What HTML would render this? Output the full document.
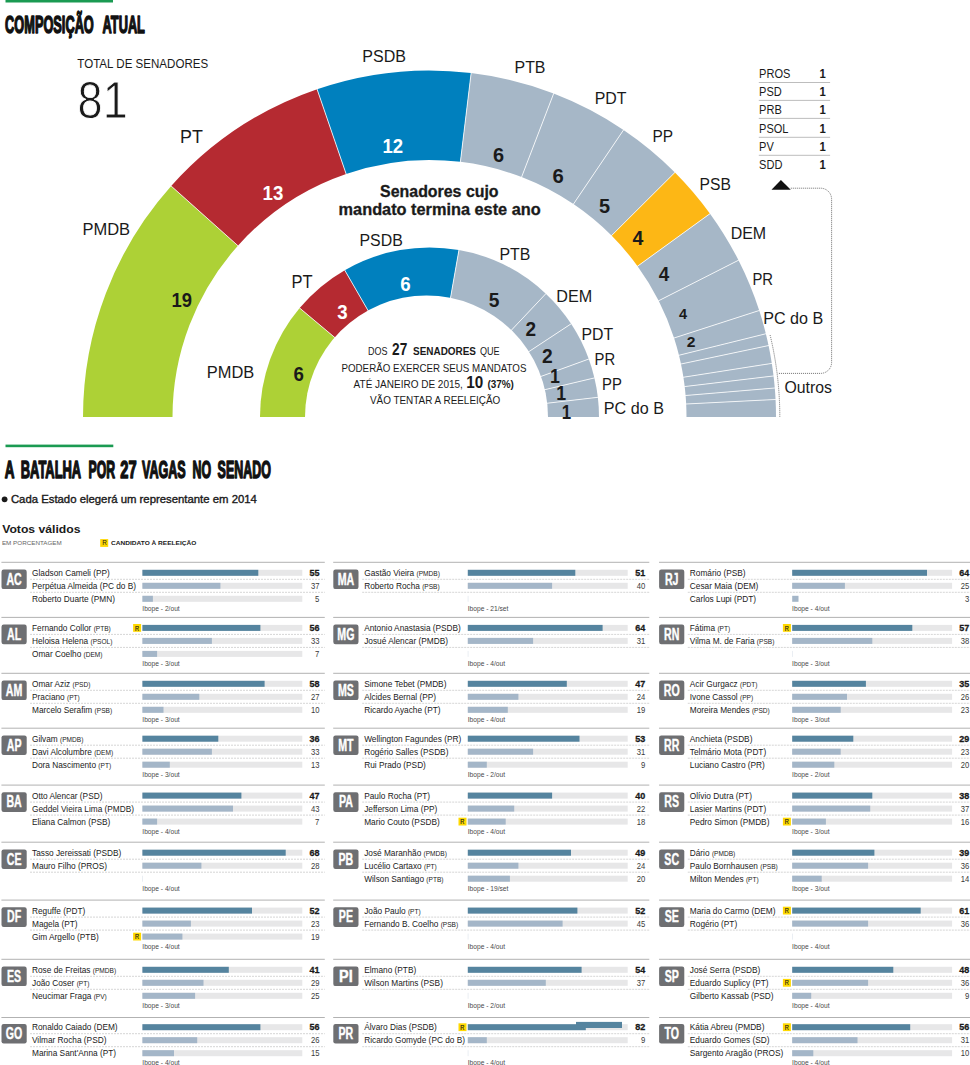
<!DOCTYPE html>
<html lang="pt-BR"><head><meta charset="utf-8"><title>Composição atual do Senado</title>
<style>
html,body{margin:0;padding:0;background:#fff}
svg{display:block;font-family:"Liberation Sans",Arial,sans-serif;fill:#1a1a1a}
</style></head><body>
<svg width="970" height="1065" viewBox="0 0 970 1065">
<rect width="970" height="1065" fill="#fff"/>
<rect x="5.5" y="0" width="107.5" height="2.5" fill="#1a9a52"/>
<rect x="5.5" y="444.6" width="107.8" height="2.6" fill="#1a9a52"/>
<text x="5.1" y="32.8" font-size="23.7" font-weight="700" fill="#111" textLength="88.7" lengthAdjust="spacingAndGlyphs" stroke="#111" stroke-width="1.5" stroke-linejoin="round">COMPOSIÇÃO</text>
<text x="102.6" y="32.8" font-size="23.7" font-weight="700" fill="#111" textLength="42.3" lengthAdjust="spacingAndGlyphs" stroke="#111" stroke-width="1.5" stroke-linejoin="round">ATUAL</text>
<text x="4.8" y="478.0" font-size="23.7" font-weight="700" fill="#111" textLength="9.7" lengthAdjust="spacingAndGlyphs" stroke="#111" stroke-width="1.5" stroke-linejoin="round">A</text>
<text x="20.7" y="478.0" font-size="23.7" font-weight="700" fill="#111" textLength="60.5" lengthAdjust="spacingAndGlyphs" stroke="#111" stroke-width="1.5" stroke-linejoin="round">BATALHA</text>
<text x="88.5" y="478.0" font-size="23.7" font-weight="700" fill="#111" textLength="26.5" lengthAdjust="spacingAndGlyphs" stroke="#111" stroke-width="1.5" stroke-linejoin="round">POR</text>
<text x="120.3" y="478.0" font-size="23.7" font-weight="700" fill="#111" textLength="16.3" lengthAdjust="spacingAndGlyphs" stroke="#111" stroke-width="1.5" stroke-linejoin="round">27</text>
<text x="142.0" y="478.0" font-size="23.7" font-weight="700" fill="#111" textLength="43.7" lengthAdjust="spacingAndGlyphs" stroke="#111" stroke-width="1.5" stroke-linejoin="round">VAGAS</text>
<text x="192.5" y="478.0" font-size="23.7" font-weight="700" fill="#111" textLength="18.6" lengthAdjust="spacingAndGlyphs" stroke="#111" stroke-width="1.5" stroke-linejoin="round">NO</text>
<text x="217.6" y="478.0" font-size="23.7" font-weight="700" fill="#111" textLength="53.3" lengthAdjust="spacingAndGlyphs" stroke="#111" stroke-width="1.5" stroke-linejoin="round">SENADO</text>
<text x="77.3" y="68.0" font-size="13.4" textLength="130.9" lengthAdjust="spacingAndGlyphs">TOTAL DE SENADORES</text>
<text x="77.6" y="118.2" font-size="51.3" textLength="50.2" lengthAdjust="spacingAndGlyphs" stroke="#fff" stroke-width="0.9">81</text>
<path d="M83.00 417.00A346.5 346.5 0 0 1 171.19 186.05L237.91 245.70A257.0 257.0 0 0 0 172.50 417.00Z" fill="#add136"/>
<path d="M171.19 186.05A346.5 346.5 0 0 1 317.09 89.24L346.13 173.90A257.0 257.0 0 0 0 237.91 245.70Z" fill="#b52a31"/>
<path d="M317.09 89.24A346.5 346.5 0 0 1 471.13 73.01L460.38 161.86A257.0 257.0 0 0 0 346.13 173.90Z" fill="#0080be"/>
<path d="M471.13 73.01A346.5 346.5 0 0 1 553.67 93.51L521.60 177.07A257.0 257.0 0 0 0 460.38 161.86Z" fill="#a6b7c7"/>
<path d="M553.67 93.51A346.5 346.5 0 0 1 623.56 129.94L573.44 204.09A257.0 257.0 0 0 0 521.60 177.07Z" fill="#a6b7c7"/>
<path d="M623.56 129.94A346.5 346.5 0 0 1 674.94 172.42L611.54 235.59A257.0 257.0 0 0 0 573.44 204.09Z" fill="#a6b7c7"/>
<path d="M674.94 172.42A346.5 346.5 0 0 1 710.04 213.63L637.58 266.16A257.0 257.0 0 0 0 611.54 235.59Z" fill="#fdb715"/>
<path d="M710.04 213.63A346.5 346.5 0 0 1 738.51 260.23L658.69 300.72A257.0 257.0 0 0 0 637.58 266.16Z" fill="#a6b7c7"/>
<path d="M738.51 260.23A346.5 346.5 0 0 1 759.23 310.50L674.06 338.01A257.0 257.0 0 0 0 658.69 300.72Z" fill="#a6b7c7"/>
<path d="M759.23 310.50A346.5 346.5 0 0 1 765.85 333.76L678.97 355.26A257.0 257.0 0 0 0 674.06 338.01Z" fill="#a6b7c7"/>
<path d="M765.85 333.76A346.5 346.5 0 0 1 768.55 345.55L680.98 364.01A257.0 257.0 0 0 0 678.97 355.26Z" fill="#a6b7c7"/>
<path d="M768.55 345.55A346.5 346.5 0 0 1 771.83 363.39L683.41 377.24A257.0 257.0 0 0 0 680.98 364.01Z" fill="#a6b7c7"/>
<path d="M771.83 363.39A346.5 346.5 0 0 1 773.56 375.97L684.69 386.57A257.0 257.0 0 0 0 683.41 377.24Z" fill="#a6b7c7"/>
<path d="M773.56 375.97A346.5 346.5 0 0 1 774.78 388.01L685.60 395.49A257.0 257.0 0 0 0 684.69 386.57Z" fill="#a6b7c7"/>
<path d="M774.78 388.01A346.5 346.5 0 0 1 775.56 399.47L686.17 404.00A257.0 257.0 0 0 0 685.60 395.49Z" fill="#a6b7c7"/>
<path d="M775.56 399.47A346.5 346.5 0 0 1 776.00 417.00L686.50 417.00A257.0 257.0 0 0 0 686.17 404.00Z" fill="#a6b7c7"/>
<line x1="170.82" y1="185.71" x2="238.29" y2="246.03" stroke="#fff" stroke-width="0.8"/>
<line x1="316.93" y1="88.77" x2="346.29" y2="174.37" stroke="#fff" stroke-width="0.8"/>
<line x1="471.19" y1="72.51" x2="460.32" y2="162.36" stroke="#fff" stroke-width="0.8"/>
<line x1="553.85" y1="93.05" x2="521.42" y2="177.54" stroke="#fff" stroke-width="0.8"/>
<line x1="623.84" y1="129.53" x2="573.16" y2="204.50" stroke="#fff" stroke-width="0.8"/>
<line x1="675.29" y1="172.06" x2="611.19" y2="235.94" stroke="#fff" stroke-width="0.8"/>
<line x1="710.44" y1="213.33" x2="637.17" y2="266.45" stroke="#fff" stroke-width="0.8"/>
<line x1="738.95" y1="260.01" x2="658.25" y2="300.95" stroke="#fff" stroke-width="0.8"/>
<line x1="759.70" y1="310.35" x2="673.58" y2="338.16" stroke="#fff" stroke-width="0.8"/>
<line x1="766.34" y1="333.64" x2="678.49" y2="355.38" stroke="#fff" stroke-width="0.8"/>
<line x1="769.04" y1="345.45" x2="680.49" y2="364.11" stroke="#fff" stroke-width="0.8"/>
<line x1="772.32" y1="363.32" x2="682.91" y2="377.32" stroke="#fff" stroke-width="0.8"/>
<line x1="774.06" y1="375.91" x2="684.20" y2="386.63" stroke="#fff" stroke-width="0.8"/>
<line x1="775.28" y1="387.96" x2="685.10" y2="395.54" stroke="#fff" stroke-width="0.8"/>
<line x1="776.06" y1="399.44" x2="685.67" y2="404.02" stroke="#fff" stroke-width="0.8"/>
<clipPath id="c2"><rect x="250" y="240" width="360" height="177"/></clipPath><g clip-path="url(#c2)">
<path d="M429.5 417.0L260.00 417.00A169.5 169.5 0 0 1 299.66 308.05Z" fill="#add136"/>
<path d="M429.5 417.0L299.66 308.05A169.5 169.5 0 0 1 344.75 270.21Z" fill="#b52a31"/>
<path d="M429.5 417.0L344.75 270.21A169.5 169.5 0 0 1 458.93 250.08Z" fill="#0080be"/>
<path d="M429.5 417.0L458.93 250.08A169.5 169.5 0 0 1 545.82 293.71Z" fill="#a6b7c7"/>
<path d="M429.5 417.0L545.82 293.71A169.5 169.5 0 0 1 571.12 323.86Z" fill="#a6b7c7"/>
<path d="M429.5 417.0L571.12 323.86A169.5 169.5 0 0 1 588.78 359.03Z" fill="#a6b7c7"/>
<path d="M429.5 417.0L588.78 359.03A169.5 169.5 0 0 1 594.43 377.91Z" fill="#a6b7c7"/>
<path d="M429.5 417.0L594.43 377.91A169.5 169.5 0 0 1 597.85 397.32Z" fill="#a6b7c7"/>
<path d="M429.5 417.0L597.85 397.32A169.5 169.5 0 0 1 599.00 417.00Z" fill="#a6b7c7"/>
<line x1="429.5" y1="417.0" x2="299.27" y2="307.73" stroke="#fff" stroke-width="0.8"/>
<line x1="429.5" y1="417.0" x2="344.50" y2="269.78" stroke="#fff" stroke-width="0.8"/>
<line x1="429.5" y1="417.0" x2="459.02" y2="249.58" stroke="#fff" stroke-width="0.8"/>
<line x1="429.5" y1="417.0" x2="546.16" y2="293.35" stroke="#fff" stroke-width="0.8"/>
<line x1="429.5" y1="417.0" x2="571.53" y2="323.58" stroke="#fff" stroke-width="0.8"/>
<line x1="429.5" y1="417.0" x2="589.25" y2="358.86" stroke="#fff" stroke-width="0.8"/>
<line x1="429.5" y1="417.0" x2="594.92" y2="377.80" stroke="#fff" stroke-width="0.8"/>
<line x1="429.5" y1="417.0" x2="598.35" y2="397.26" stroke="#fff" stroke-width="0.8"/>
<circle cx="426.5" cy="417" r="121.5" fill="#fff"/></g>
<text x="82.4" y="234.5" font-size="17.4" textLength="47.7" lengthAdjust="spacingAndGlyphs">PMDB</text>
<text x="180.1" y="142.5" font-size="18.5" textLength="22.8" lengthAdjust="spacingAndGlyphs">PT</text>
<text x="362.3" y="62.4" font-size="17.4" textLength="43.6" lengthAdjust="spacingAndGlyphs">PSDB</text>
<text x="514.5" y="72.6" font-size="17.4" textLength="31.0" lengthAdjust="spacingAndGlyphs">PTB</text>
<text x="594.7" y="103.9" font-size="17.4" textLength="31.8" lengthAdjust="spacingAndGlyphs">PDT</text>
<text x="652.5" y="141.8" font-size="17.4" textLength="20.6" lengthAdjust="spacingAndGlyphs">PP</text>
<text x="699.6" y="190.4" font-size="17.4" textLength="31.3" lengthAdjust="spacingAndGlyphs">PSB</text>
<text x="730.7" y="238.9" font-size="17.4" textLength="35.5" lengthAdjust="spacingAndGlyphs">DEM</text>
<text x="752.4" y="284.9" font-size="17.4" textLength="20.6" lengthAdjust="spacingAndGlyphs">PR</text>
<text x="763.2" y="324.4" font-size="17.4" textLength="60.0" lengthAdjust="spacingAndGlyphs">PC do B</text>
<text x="784.5" y="392.5" font-size="16.7" textLength="47.5" lengthAdjust="spacingAndGlyphs">Outros</text>
<text x="206.8" y="377.6" font-size="17.2" textLength="47.5" lengthAdjust="spacingAndGlyphs">PMDB</text>
<text x="291.4" y="287.5" font-size="18.2" textLength="21.1" lengthAdjust="spacingAndGlyphs">PT</text>
<text x="359.5" y="246.4" font-size="17.4" textLength="43.3" lengthAdjust="spacingAndGlyphs">PSDB</text>
<text x="499.4" y="259.7" font-size="17.4" textLength="30.9" lengthAdjust="spacingAndGlyphs">PTB</text>
<text x="556.3" y="301.8" font-size="17.4" textLength="35.9" lengthAdjust="spacingAndGlyphs">DEM</text>
<text x="581.5" y="339.6" font-size="17.4" textLength="31.7" lengthAdjust="spacingAndGlyphs">PDT</text>
<text x="594.6" y="365.3" font-size="17.4" textLength="20.6" lengthAdjust="spacingAndGlyphs">PR</text>
<text x="602.1" y="389.6" font-size="17.4" textLength="19.8" lengthAdjust="spacingAndGlyphs">PP</text>
<text x="603.8" y="413.6" font-size="17.4" textLength="60.1" lengthAdjust="spacingAndGlyphs">PC do B</text>
<text x="171.5" y="306.8" font-size="19.8" font-weight="700" textLength="20.5" lengthAdjust="spacingAndGlyphs">19</text>
<text x="262.5" y="200.3" font-size="19.8" font-weight="700" textLength="20.8" lengthAdjust="spacingAndGlyphs" fill="#fff">13</text>
<text x="382.5" y="152.9" font-size="19.8" font-weight="700" textLength="20.6" lengthAdjust="spacingAndGlyphs" fill="#fff">12</text>
<text x="493.0" y="162.0" font-size="19.8" font-weight="700" textLength="11.1" lengthAdjust="spacingAndGlyphs">6</text>
<text x="552.4" y="182.6" font-size="19.8" font-weight="700" textLength="11.3" lengthAdjust="spacingAndGlyphs">6</text>
<text x="599.0" y="212.7" font-size="19.8" font-weight="700" textLength="11.1" lengthAdjust="spacingAndGlyphs">5</text>
<text x="632.5" y="244.8" font-size="19.8" font-weight="700" textLength="10.9" lengthAdjust="spacingAndGlyphs">4</text>
<text x="658.7" y="280.8" font-size="19.8" font-weight="700" textLength="10.5" lengthAdjust="spacingAndGlyphs">4</text>
<text x="679.0" y="318.8" font-size="14.8" font-weight="700" textLength="8.1" lengthAdjust="spacingAndGlyphs">4</text>
<text x="686.8" y="347.3" font-size="14.8" font-weight="700" textLength="8.7" lengthAdjust="spacingAndGlyphs">2</text>
<text x="293.4" y="380.8" font-size="19.8" font-weight="700" textLength="10.4" lengthAdjust="spacingAndGlyphs">6</text>
<text x="337.2" y="318.5" font-size="19.8" font-weight="700" textLength="10.4" lengthAdjust="spacingAndGlyphs" fill="#fff">3</text>
<text x="400.3" y="290.5" font-size="19.8" font-weight="700" textLength="10.4" lengthAdjust="spacingAndGlyphs" fill="#fff">6</text>
<text x="488.7" y="306.7" font-size="19.8" font-weight="700" textLength="10.7" lengthAdjust="spacingAndGlyphs">5</text>
<text x="525.4" y="335.9" font-size="19.8" font-weight="700" textLength="10.6" lengthAdjust="spacingAndGlyphs">2</text>
<text x="541.9" y="362.9" font-size="19.8" font-weight="700" textLength="10.7" lengthAdjust="spacingAndGlyphs">2</text>
<text x="550.1" y="382.7" font-size="19.8" font-weight="700" textLength="9.9" lengthAdjust="spacingAndGlyphs">1</text>
<text x="556.3" y="399.5" font-size="19.8" font-weight="700" textLength="9.9" lengthAdjust="spacingAndGlyphs">1</text>
<text x="561.7" y="419.3" font-size="19.8" font-weight="700" textLength="9.4" lengthAdjust="spacingAndGlyphs">1</text>
<text x="380.1" y="196.5" font-size="15.7" font-weight="700" textLength="118.5" lengthAdjust="spacingAndGlyphs" stroke="#1a1a1a" stroke-width="0.3">Senadores cujo</text>
<text x="338.6" y="215.3" font-size="15.7" font-weight="700" textLength="202.1" lengthAdjust="spacingAndGlyphs" stroke="#1a1a1a" stroke-width="0.3">mandato termina este ano</text>
<text x="368.1" y="354.7" font-size="10.6" textLength="19.5" lengthAdjust="spacingAndGlyphs">DOS</text>
<text x="392.1" y="354.7" font-size="16.3" font-weight="700" textLength="15.2" lengthAdjust="spacingAndGlyphs">27</text>
<text x="413.0" y="354.7" font-size="10.6" font-weight="700" textLength="63.0" lengthAdjust="spacingAndGlyphs">SENADORES</text>
<text x="479.9" y="354.7" font-size="10.6" textLength="19.7" lengthAdjust="spacingAndGlyphs">QUE</text>
<text x="341.5" y="371.7" font-size="10.6" textLength="184.9" lengthAdjust="spacingAndGlyphs">PODERÃO EXERCER SEUS MANDATOS</text>
<text x="353.6" y="387.6" font-size="10.6" textLength="109.3" lengthAdjust="spacingAndGlyphs">ATÉ JANEIRO DE 2015,</text>
<text x="466.3" y="387.6" font-size="16.3" font-weight="700" textLength="17.0" lengthAdjust="spacingAndGlyphs">10</text>
<text x="487.4" y="387.6" font-size="10.6" font-weight="700" textLength="26.5" lengthAdjust="spacingAndGlyphs">(37%)</text>
<text x="369.9" y="403.5" font-size="10.6" textLength="130.4" lengthAdjust="spacingAndGlyphs">VÃO TENTAR A REELEIÇÃO</text>
<text x="759.1" y="78.3" font-size="13.1" textLength="31.3" lengthAdjust="spacingAndGlyphs">PROS</text>
<text x="819.6" y="78.3" font-size="13.2" font-weight="700" textLength="6.3" lengthAdjust="spacingAndGlyphs">1</text>
<text x="759.1" y="96.3" font-size="13.1" textLength="22.7" lengthAdjust="spacingAndGlyphs">PSD</text>
<text x="819.6" y="96.3" font-size="13.2" font-weight="700" textLength="6.3" lengthAdjust="spacingAndGlyphs">1</text>
<text x="759.1" y="114.3" font-size="13.1" textLength="22.7" lengthAdjust="spacingAndGlyphs">PRB</text>
<text x="819.6" y="114.3" font-size="13.2" font-weight="700" textLength="6.3" lengthAdjust="spacingAndGlyphs">1</text>
<text x="759.1" y="132.7" font-size="13.1" textLength="29.4" lengthAdjust="spacingAndGlyphs">PSOL</text>
<text x="819.6" y="132.7" font-size="13.2" font-weight="700" textLength="6.3" lengthAdjust="spacingAndGlyphs">1</text>
<text x="759.1" y="150.7" font-size="13.1" textLength="14.7" lengthAdjust="spacingAndGlyphs">PV</text>
<text x="819.6" y="150.7" font-size="13.2" font-weight="700" textLength="6.3" lengthAdjust="spacingAndGlyphs">1</text>
<text x="759.1" y="168.8" font-size="13.1" textLength="23.3" lengthAdjust="spacingAndGlyphs">SDD</text>
<text x="819.6" y="168.8" font-size="13.2" font-weight="700" textLength="6.3" lengthAdjust="spacingAndGlyphs">1</text>
<line x1="758.8" y1="82.5" x2="830.1" y2="82.5" stroke="#b5b5b5" stroke-width="0.9"/>
<line x1="758.8" y1="100.4" x2="830.1" y2="100.4" stroke="#b5b5b5" stroke-width="0.9"/>
<line x1="758.8" y1="118.4" x2="830.1" y2="118.4" stroke="#b5b5b5" stroke-width="0.9"/>
<line x1="758.8" y1="137.3" x2="830.1" y2="137.3" stroke="#b5b5b5" stroke-width="0.9"/>
<line x1="758.8" y1="155.3" x2="830.1" y2="155.3" stroke="#b5b5b5" stroke-width="0.9"/>
<path d="M780.9 180L790.8 189.7L771.5 189.7Z" fill="#111"/>
<path d="M790.8 188.2H820.5A11 11 0 0 1 831.6 199.3V362.4A11 11 0 0 1 820.5 373.4H777.8" fill="none" stroke="#333" stroke-width="0.7" stroke-dasharray="1 1"/>
<path d="M770.1 335.0A350.3 350.3 0 0 1 779.8 417.0" fill="none" stroke="#333" stroke-width="0.7" stroke-dasharray="1 1"/>
<circle cx="4.6" cy="499.3" r="2.9" fill="#1a1a1a"/>
<text x="10.9" y="503.0" font-size="10.5" textLength="246.0" lengthAdjust="spacingAndGlyphs" stroke="#1a1a1a" stroke-width="0.35">Cada Estado elegerá um representante em 2014</text>
<text x="2.2" y="532.5" font-size="11.5" font-weight="700" textLength="78.3" lengthAdjust="spacingAndGlyphs">Votos válidos</text>
<text x="1.9" y="545.3" font-size="6.1" textLength="59.9" lengthAdjust="spacingAndGlyphs" fill="#666">EM PORCENTAGEM</text>
<rect x="100.2" y="539.1" width="8.0" height="7.8" fill="#ffd800"/>
<text x="102.3" y="545.3" font-size="6.6" textLength="4.6" lengthAdjust="spacingAndGlyphs">R</text>
<text x="111.1" y="545.3" font-size="6.2" font-weight="700" textLength="85.2" lengthAdjust="spacingAndGlyphs">CANDIDATO À REELEIÇÃO</text>
<line x1="1.4" y1="562.3" x2="324.8" y2="562.3" stroke="#a9a9a9" stroke-width="0.9"/>
<rect x="1.5" y="569.5" width="25.2" height="19.6" rx="2.2" fill="#6e6f72"/>
<text x="14.1" y="584.6" font-size="15.8" font-weight="700" fill="#fff" text-anchor="middle" textLength="15.3" lengthAdjust="spacingAndGlyphs" stroke="#fff" stroke-width="0.4">AC</text>
<text x="32.0" y="575.6" font-size="8.7" textLength="77.8" lengthAdjust="spacingAndGlyphs">Gladson Cameli (PP)</text>
<rect x="142.4" y="569.8" width="159.9" height="6" fill="#e7e7e8"/>
<rect x="142.4" y="569.8" width="115.9" height="6" fill="#55849f"/>
<text x="319.4" y="575.6" font-size="9" text-anchor="end" font-weight="700" stroke="#1a1a1a" stroke-width="0.3">55</text>
<line x1="30.0" y1="579.3" x2="324.8" y2="579.3" stroke="#aaa" stroke-width="0.5" stroke-dasharray="2 1"/>
<text x="32.0" y="588.6" font-size="8.7" textLength="104.0" lengthAdjust="spacingAndGlyphs">Perpétua Almeida (PC do B)</text>
<rect x="142.4" y="582.8" width="159.9" height="6" fill="#e7e7e8"/>
<rect x="142.4" y="582.8" width="78.0" height="6" fill="#a4b6c8"/>
<text x="319.4" y="588.6" font-size="9" text-anchor="end" textLength="8.5" lengthAdjust="spacingAndGlyphs" fill="#3a3a3a">37</text>
<line x1="30.0" y1="592.3" x2="324.8" y2="592.3" stroke="#aaa" stroke-width="0.5" stroke-dasharray="2 1"/>
<text x="32.0" y="601.6" font-size="8.7" textLength="82.9" lengthAdjust="spacingAndGlyphs">Roberto Duarte (PMN)</text>
<rect x="142.4" y="595.8" width="159.9" height="6" fill="#e7e7e8"/>
<rect x="142.4" y="595.8" width="10.5" height="6" fill="#a4b6c8"/>
<text x="319.4" y="601.6" font-size="9" text-anchor="end" textLength="4.3" lengthAdjust="spacingAndGlyphs" fill="#3a3a3a">5</text>
<text x="142.3" y="610.7" font-size="7.4" textLength="37.4" lengthAdjust="spacingAndGlyphs" fill="#4a4a4a">Ibope - 2/out</text>
<line x1="1.4" y1="617.4" x2="324.8" y2="617.4" stroke="#a9a9a9" stroke-width="0.9"/>
<rect x="1.5" y="624.6" width="25.2" height="19.6" rx="2.2" fill="#6e6f72"/>
<text x="14.1" y="639.7" font-size="15.8" font-weight="700" fill="#fff" text-anchor="middle" textLength="14.1" lengthAdjust="spacingAndGlyphs" stroke="#fff" stroke-width="0.4">AL</text>
<text x="32.0" y="630.8" font-size="8.7" textLength="78.8" lengthAdjust="spacingAndGlyphs">Fernando Collor <tspan font-size="6.9">(PTB)</tspan></text>
<rect x="142.4" y="624.9" width="159.9" height="6" fill="#e7e7e8"/>
<rect x="142.4" y="624.9" width="118.0" height="6" fill="#55849f"/>
<rect x="133.1" y="624.0" width="8" height="7.8" fill="#ffd900"/>
<text x="134.9" y="630.5" font-size="7.4" textLength="4.1" lengthAdjust="spacingAndGlyphs" stroke="#1a1a1a" stroke-width="0.2">R</text>
<text x="319.4" y="630.8" font-size="9" text-anchor="end" font-weight="700" stroke="#1a1a1a" stroke-width="0.3">56</text>
<line x1="30.0" y1="634.4" x2="324.8" y2="634.4" stroke="#aaa" stroke-width="0.5" stroke-dasharray="2 1"/>
<text x="32.0" y="643.8" font-size="8.7" textLength="80.4" lengthAdjust="spacingAndGlyphs">Heloisa Helena <tspan font-size="6.9">(PSOL)</tspan></text>
<rect x="142.4" y="637.9" width="159.9" height="6" fill="#e7e7e8"/>
<rect x="142.4" y="637.9" width="69.5" height="6" fill="#a4b6c8"/>
<text x="319.4" y="643.8" font-size="9" text-anchor="end" textLength="8.5" lengthAdjust="spacingAndGlyphs" fill="#3a3a3a">33</text>
<line x1="30.0" y1="647.4" x2="324.8" y2="647.4" stroke="#aaa" stroke-width="0.5" stroke-dasharray="2 1"/>
<text x="32.0" y="656.8" font-size="8.7" textLength="70.5" lengthAdjust="spacingAndGlyphs">Omar Coelho <tspan font-size="6.9">(DEM)</tspan></text>
<rect x="142.4" y="650.9" width="159.9" height="6" fill="#e7e7e8"/>
<rect x="142.4" y="650.9" width="14.7" height="6" fill="#a4b6c8"/>
<text x="319.4" y="656.8" font-size="9" text-anchor="end" textLength="4.3" lengthAdjust="spacingAndGlyphs" fill="#3a3a3a">7</text>
<text x="142.3" y="665.8" font-size="7.4" textLength="37.4" lengthAdjust="spacingAndGlyphs" fill="#4a4a4a">Ibope - 3/out</text>
<line x1="1.4" y1="673.3" x2="324.8" y2="673.3" stroke="#a9a9a9" stroke-width="0.9"/>
<rect x="1.5" y="680.5" width="25.2" height="19.6" rx="2.2" fill="#6e6f72"/>
<text x="14.1" y="695.6" font-size="15.8" font-weight="700" fill="#fff" text-anchor="middle" textLength="16.5" lengthAdjust="spacingAndGlyphs" stroke="#fff" stroke-width="0.4">AM</text>
<text x="32.0" y="686.6" font-size="8.7" textLength="58.4" lengthAdjust="spacingAndGlyphs">Omar Aziz <tspan font-size="6.9">(PSD)</tspan></text>
<rect x="142.4" y="680.8" width="159.9" height="6" fill="#e7e7e8"/>
<rect x="142.4" y="680.8" width="122.2" height="6" fill="#55849f"/>
<text x="319.4" y="686.6" font-size="9" text-anchor="end" font-weight="700" stroke="#1a1a1a" stroke-width="0.3">58</text>
<line x1="30.0" y1="690.3" x2="324.8" y2="690.3" stroke="#aaa" stroke-width="0.5" stroke-dasharray="2 1"/>
<text x="32.0" y="699.6" font-size="8.7" textLength="47.8" lengthAdjust="spacingAndGlyphs">Praciano <tspan font-size="6.9">(PT)</tspan></text>
<rect x="142.4" y="693.8" width="159.9" height="6" fill="#e7e7e8"/>
<rect x="142.4" y="693.8" width="56.9" height="6" fill="#a4b6c8"/>
<text x="319.4" y="699.6" font-size="9" text-anchor="end" textLength="8.5" lengthAdjust="spacingAndGlyphs" fill="#3a3a3a">27</text>
<line x1="30.0" y1="703.3" x2="324.8" y2="703.3" stroke="#aaa" stroke-width="0.5" stroke-dasharray="2 1"/>
<text x="32.0" y="712.6" font-size="8.7" textLength="80.1" lengthAdjust="spacingAndGlyphs">Marcelo Serafim <tspan font-size="6.9">(PSB)</tspan></text>
<rect x="142.4" y="706.8" width="159.9" height="6" fill="#e7e7e8"/>
<rect x="142.4" y="706.8" width="21.1" height="6" fill="#a4b6c8"/>
<text x="319.4" y="712.6" font-size="9" text-anchor="end" textLength="8.5" lengthAdjust="spacingAndGlyphs" fill="#3a3a3a">10</text>
<text x="142.3" y="721.7" font-size="7.4" textLength="37.4" lengthAdjust="spacingAndGlyphs" fill="#4a4a4a">Ibope - 3/out</text>
<line x1="1.4" y1="728.2" x2="324.8" y2="728.2" stroke="#a9a9a9" stroke-width="0.9"/>
<rect x="1.5" y="735.4" width="25.2" height="19.6" rx="2.2" fill="#6e6f72"/>
<text x="14.1" y="750.5" font-size="15.8" font-weight="700" fill="#fff" text-anchor="middle" textLength="14.7" lengthAdjust="spacingAndGlyphs" stroke="#fff" stroke-width="0.4">AP</text>
<text x="32.0" y="741.6" font-size="8.7" textLength="51.4" lengthAdjust="spacingAndGlyphs">Gilvam <tspan font-size="6.9">(PMDB)</tspan></text>
<rect x="142.4" y="735.7" width="159.9" height="6" fill="#e7e7e8"/>
<rect x="142.4" y="735.7" width="75.9" height="6" fill="#55849f"/>
<text x="319.4" y="741.6" font-size="9" text-anchor="end" font-weight="700" stroke="#1a1a1a" stroke-width="0.3">36</text>
<line x1="30.0" y1="745.2" x2="324.8" y2="745.2" stroke="#aaa" stroke-width="0.5" stroke-dasharray="2 1"/>
<text x="32.0" y="754.6" font-size="8.7" textLength="81.1" lengthAdjust="spacingAndGlyphs">Davi Alcolumbre <tspan font-size="6.9">(DEM)</tspan></text>
<rect x="142.4" y="748.7" width="159.9" height="6" fill="#e7e7e8"/>
<rect x="142.4" y="748.7" width="69.5" height="6" fill="#a4b6c8"/>
<text x="319.4" y="754.6" font-size="9" text-anchor="end" textLength="8.5" lengthAdjust="spacingAndGlyphs" fill="#3a3a3a">33</text>
<line x1="30.0" y1="758.2" x2="324.8" y2="758.2" stroke="#aaa" stroke-width="0.5" stroke-dasharray="2 1"/>
<text x="32.0" y="767.6" font-size="8.7" textLength="79.1" lengthAdjust="spacingAndGlyphs">Dora Nascimento <tspan font-size="6.9">(PT)</tspan></text>
<rect x="142.4" y="761.7" width="159.9" height="6" fill="#e7e7e8"/>
<rect x="142.4" y="761.7" width="27.4" height="6" fill="#a4b6c8"/>
<text x="319.4" y="767.6" font-size="9" text-anchor="end" textLength="8.5" lengthAdjust="spacingAndGlyphs" fill="#3a3a3a">13</text>
<text x="142.3" y="776.6" font-size="7.4" textLength="37.4" lengthAdjust="spacingAndGlyphs" fill="#4a4a4a">Ibope - 3/out</text>
<line x1="1.4" y1="785.1" x2="324.8" y2="785.1" stroke="#a9a9a9" stroke-width="0.9"/>
<rect x="1.5" y="792.3" width="25.2" height="19.6" rx="2.2" fill="#6e6f72"/>
<text x="14.1" y="807.4" font-size="15.8" font-weight="700" fill="#fff" text-anchor="middle" textLength="15.3" lengthAdjust="spacingAndGlyphs" stroke="#fff" stroke-width="0.4">BA</text>
<text x="32.0" y="798.5" font-size="8.7" textLength="70.4" lengthAdjust="spacingAndGlyphs">Otto Alencar (PSD)</text>
<rect x="142.4" y="792.6" width="159.9" height="6" fill="#e7e7e8"/>
<rect x="142.4" y="792.6" width="99.0" height="6" fill="#55849f"/>
<text x="319.4" y="798.5" font-size="9" text-anchor="end" font-weight="700" stroke="#1a1a1a" stroke-width="0.3">47</text>
<line x1="30.0" y1="802.1" x2="324.8" y2="802.1" stroke="#aaa" stroke-width="0.5" stroke-dasharray="2 1"/>
<text x="32.0" y="811.5" font-size="8.7" textLength="102.0" lengthAdjust="spacingAndGlyphs">Geddel Vieira Lima (PMDB)</text>
<rect x="142.4" y="805.6" width="159.9" height="6" fill="#e7e7e8"/>
<rect x="142.4" y="805.6" width="90.6" height="6" fill="#a4b6c8"/>
<text x="319.4" y="811.5" font-size="9" text-anchor="end" textLength="8.5" lengthAdjust="spacingAndGlyphs" fill="#3a3a3a">43</text>
<line x1="30.0" y1="815.1" x2="324.8" y2="815.1" stroke="#aaa" stroke-width="0.5" stroke-dasharray="2 1"/>
<text x="32.0" y="824.5" font-size="8.7" textLength="78.3" lengthAdjust="spacingAndGlyphs">Eliana Calmon (PSB)</text>
<rect x="142.4" y="818.6" width="159.9" height="6" fill="#e7e7e8"/>
<rect x="142.4" y="818.6" width="14.7" height="6" fill="#a4b6c8"/>
<text x="319.4" y="824.5" font-size="9" text-anchor="end" textLength="4.3" lengthAdjust="spacingAndGlyphs" fill="#3a3a3a">7</text>
<text x="142.3" y="833.5" font-size="7.4" textLength="37.4" lengthAdjust="spacingAndGlyphs" fill="#4a4a4a">Ibope - 4/out</text>
<line x1="1.4" y1="842.2" x2="324.8" y2="842.2" stroke="#a9a9a9" stroke-width="0.9"/>
<rect x="1.5" y="849.4" width="25.2" height="19.6" rx="2.2" fill="#6e6f72"/>
<text x="14.1" y="864.5" font-size="15.8" font-weight="700" fill="#fff" text-anchor="middle" textLength="14.7" lengthAdjust="spacingAndGlyphs" stroke="#fff" stroke-width="0.4">CE</text>
<text x="32.0" y="855.6" font-size="8.7" textLength="89.3" lengthAdjust="spacingAndGlyphs">Tasso Jereissati (PSDB)</text>
<rect x="142.4" y="849.7" width="159.9" height="6" fill="#e7e7e8"/>
<rect x="142.4" y="849.7" width="143.3" height="6" fill="#55849f"/>
<text x="319.4" y="855.6" font-size="9" text-anchor="end" font-weight="700" stroke="#1a1a1a" stroke-width="0.3">68</text>
<line x1="30.0" y1="859.2" x2="324.8" y2="859.2" stroke="#aaa" stroke-width="0.5" stroke-dasharray="2 1"/>
<text x="32.0" y="868.6" font-size="8.7" textLength="75.0" lengthAdjust="spacingAndGlyphs">Mauro Filho (PROS)</text>
<rect x="142.4" y="862.7" width="159.9" height="6" fill="#e7e7e8"/>
<rect x="142.4" y="862.7" width="59.0" height="6" fill="#a4b6c8"/>
<text x="319.4" y="868.6" font-size="9" text-anchor="end" textLength="8.5" lengthAdjust="spacingAndGlyphs" fill="#3a3a3a">28</text>
<line x1="30.0" y1="872.2" x2="324.8" y2="872.2" stroke="#aaa" stroke-width="0.5" stroke-dasharray="2 1"/>
<rect x="142.4" y="875.7" width="0.5" height="6" fill="#d5dde6"/>
<text x="142.3" y="890.6" font-size="7.4" textLength="37.4" lengthAdjust="spacingAndGlyphs" fill="#4a4a4a">Ibope - 4/out</text>
<line x1="1.4" y1="900.1" x2="324.8" y2="900.1" stroke="#a9a9a9" stroke-width="0.9"/>
<rect x="1.5" y="907.3" width="25.2" height="19.6" rx="2.2" fill="#6e6f72"/>
<text x="14.1" y="922.4" font-size="15.8" font-weight="700" fill="#fff" text-anchor="middle" textLength="14.1" lengthAdjust="spacingAndGlyphs" stroke="#fff" stroke-width="0.4">DF</text>
<text x="32.0" y="913.5" font-size="8.7" textLength="53.2" lengthAdjust="spacingAndGlyphs">Reguffe (PDT)</text>
<rect x="142.4" y="907.6" width="159.9" height="6" fill="#e7e7e8"/>
<rect x="142.4" y="907.6" width="109.6" height="6" fill="#55849f"/>
<text x="319.4" y="913.5" font-size="9" text-anchor="end" font-weight="700" stroke="#1a1a1a" stroke-width="0.3">52</text>
<line x1="30.0" y1="917.1" x2="324.8" y2="917.1" stroke="#aaa" stroke-width="0.5" stroke-dasharray="2 1"/>
<text x="32.0" y="926.5" font-size="8.7" textLength="45.6" lengthAdjust="spacingAndGlyphs">Magela (PT)</text>
<rect x="142.4" y="920.6" width="159.9" height="6" fill="#e7e7e8"/>
<rect x="142.4" y="920.6" width="48.5" height="6" fill="#a4b6c8"/>
<text x="319.4" y="926.5" font-size="9" text-anchor="end" textLength="8.5" lengthAdjust="spacingAndGlyphs" fill="#3a3a3a">23</text>
<line x1="30.0" y1="930.1" x2="324.8" y2="930.1" stroke="#aaa" stroke-width="0.5" stroke-dasharray="2 1"/>
<text x="32.0" y="939.5" font-size="8.7" textLength="66.7" lengthAdjust="spacingAndGlyphs">Gim Argello (PTB)</text>
<rect x="142.4" y="933.6" width="159.9" height="6" fill="#e7e7e8"/>
<rect x="142.4" y="933.6" width="40.0" height="6" fill="#a4b6c8"/>
<rect x="133.1" y="932.7" width="8" height="7.8" fill="#ffd900"/>
<text x="134.9" y="939.2" font-size="7.4" textLength="4.1" lengthAdjust="spacingAndGlyphs" stroke="#1a1a1a" stroke-width="0.2">R</text>
<text x="319.4" y="939.5" font-size="9" text-anchor="end" textLength="8.5" lengthAdjust="spacingAndGlyphs" fill="#3a3a3a">19</text>
<text x="142.3" y="948.5" font-size="7.4" textLength="37.4" lengthAdjust="spacingAndGlyphs" fill="#4a4a4a">Ibope - 4/out</text>
<line x1="1.4" y1="959.3" x2="324.8" y2="959.3" stroke="#a9a9a9" stroke-width="0.9"/>
<rect x="1.5" y="966.5" width="25.2" height="19.6" rx="2.2" fill="#6e6f72"/>
<text x="14.1" y="981.6" font-size="15.8" font-weight="700" fill="#fff" text-anchor="middle" textLength="14.1" lengthAdjust="spacingAndGlyphs" stroke="#fff" stroke-width="0.4">ES</text>
<text x="32.0" y="972.6" font-size="8.7" textLength="84.1" lengthAdjust="spacingAndGlyphs">Rose de Freitas <tspan font-size="6.9">(PMDB)</tspan></text>
<rect x="142.4" y="966.8" width="159.9" height="6" fill="#e7e7e8"/>
<rect x="142.4" y="966.8" width="86.4" height="6" fill="#55849f"/>
<text x="319.4" y="972.6" font-size="9" text-anchor="end" font-weight="700" stroke="#1a1a1a" stroke-width="0.3">41</text>
<line x1="30.0" y1="976.3" x2="324.8" y2="976.3" stroke="#aaa" stroke-width="0.5" stroke-dasharray="2 1"/>
<text x="32.0" y="985.6" font-size="8.7" textLength="57.4" lengthAdjust="spacingAndGlyphs">João Coser <tspan font-size="6.9">(PT)</tspan></text>
<rect x="142.4" y="979.8" width="159.9" height="6" fill="#e7e7e8"/>
<rect x="142.4" y="979.8" width="61.1" height="6" fill="#a4b6c8"/>
<text x="319.4" y="985.6" font-size="9" text-anchor="end" textLength="8.5" lengthAdjust="spacingAndGlyphs" fill="#3a3a3a">29</text>
<line x1="30.0" y1="989.3" x2="324.8" y2="989.3" stroke="#aaa" stroke-width="0.5" stroke-dasharray="2 1"/>
<text x="32.0" y="998.6" font-size="8.7" textLength="74.8" lengthAdjust="spacingAndGlyphs">Neucimar Fraga <tspan font-size="6.9">(PV)</tspan></text>
<rect x="142.4" y="992.8" width="159.9" height="6" fill="#e7e7e8"/>
<rect x="142.4" y="992.8" width="52.7" height="6" fill="#a4b6c8"/>
<text x="319.4" y="998.6" font-size="9" text-anchor="end" textLength="8.5" lengthAdjust="spacingAndGlyphs" fill="#3a3a3a">25</text>
<text x="142.3" y="1007.7" font-size="7.4" textLength="37.4" lengthAdjust="spacingAndGlyphs" fill="#4a4a4a">Ibope - 3/out</text>
<line x1="1.4" y1="1017.5" x2="324.8" y2="1017.5" stroke="#a9a9a9" stroke-width="0.9"/>
<rect x="1.5" y="1023.9" width="25.2" height="19.6" rx="2.2" fill="#6e6f72"/>
<text x="14.1" y="1039.0" font-size="15.8" font-weight="700" fill="#fff" text-anchor="middle" textLength="16.5" lengthAdjust="spacingAndGlyphs" stroke="#fff" stroke-width="0.4">GO</text>
<text x="32.0" y="1030.0" font-size="8.7" textLength="85.6" lengthAdjust="spacingAndGlyphs">Ronaldo Caiado (DEM)</text>
<rect x="142.4" y="1024.2" width="159.9" height="6" fill="#e7e7e8"/>
<rect x="142.4" y="1024.2" width="118.0" height="6" fill="#55849f"/>
<text x="319.4" y="1030.0" font-size="9" text-anchor="end" font-weight="700" stroke="#1a1a1a" stroke-width="0.3">56</text>
<line x1="30.0" y1="1033.7" x2="324.8" y2="1033.7" stroke="#aaa" stroke-width="0.5" stroke-dasharray="2 1"/>
<text x="32.0" y="1043.0" font-size="8.7" textLength="74.4" lengthAdjust="spacingAndGlyphs">Vilmar Rocha (PSD)</text>
<rect x="142.4" y="1037.2" width="159.9" height="6" fill="#e7e7e8"/>
<rect x="142.4" y="1037.2" width="54.8" height="6" fill="#a4b6c8"/>
<text x="319.4" y="1043.0" font-size="9" text-anchor="end" textLength="8.5" lengthAdjust="spacingAndGlyphs" fill="#3a3a3a">26</text>
<line x1="30.0" y1="1046.7" x2="324.8" y2="1046.7" stroke="#aaa" stroke-width="0.5" stroke-dasharray="2 1"/>
<text x="32.0" y="1056.0" font-size="8.7" textLength="84.0" lengthAdjust="spacingAndGlyphs">Marina Sant'Anna (PT)</text>
<rect x="142.4" y="1050.2" width="159.9" height="6" fill="#e7e7e8"/>
<rect x="142.4" y="1050.2" width="31.6" height="6" fill="#a4b6c8"/>
<text x="319.4" y="1056.0" font-size="9" text-anchor="end" textLength="8.5" lengthAdjust="spacingAndGlyphs" fill="#3a3a3a">15</text>
<text x="142.3" y="1065.1" font-size="7.4" textLength="37.4" lengthAdjust="spacingAndGlyphs" fill="#4a4a4a">Ibope - 4/out</text>
<line x1="333.2" y1="562.3" x2="649.3" y2="562.3" stroke="#a9a9a9" stroke-width="0.9"/>
<rect x="333.3" y="569.5" width="25.2" height="19.6" rx="2.2" fill="#6e6f72"/>
<text x="345.9" y="584.6" font-size="15.8" font-weight="700" fill="#fff" text-anchor="middle" textLength="16.5" lengthAdjust="spacingAndGlyphs" stroke="#fff" stroke-width="0.4">MA</text>
<text x="364.2" y="575.6" font-size="8.7" textLength="75.7" lengthAdjust="spacingAndGlyphs">Gastão Vieira <tspan font-size="6.9">(PMDB)</tspan></text>
<rect x="467.8" y="569.8" width="159.9" height="6" fill="#e7e7e8"/>
<rect x="467.8" y="569.8" width="107.5" height="6" fill="#55849f"/>
<text x="645.3" y="575.6" font-size="9" text-anchor="end" font-weight="700" stroke="#1a1a1a" stroke-width="0.3">51</text>
<line x1="362.2" y1="579.3" x2="649.3" y2="579.3" stroke="#aaa" stroke-width="0.5" stroke-dasharray="2 1"/>
<text x="364.2" y="588.6" font-size="8.7" textLength="75.5" lengthAdjust="spacingAndGlyphs">Roberto Rocha <tspan font-size="6.9">(PSB)</tspan></text>
<rect x="467.8" y="582.8" width="159.9" height="6" fill="#e7e7e8"/>
<rect x="467.8" y="582.8" width="84.3" height="6" fill="#a4b6c8"/>
<text x="645.3" y="588.6" font-size="9" text-anchor="end" textLength="8.5" lengthAdjust="spacingAndGlyphs" fill="#3a3a3a">40</text>
<line x1="362.2" y1="592.3" x2="649.3" y2="592.3" stroke="#aaa" stroke-width="0.5" stroke-dasharray="2 1"/>
<rect x="467.8" y="595.8" width="0.5" height="6" fill="#d5dde6"/>
<text x="467.7" y="610.7" font-size="7.4" textLength="40.7" lengthAdjust="spacingAndGlyphs" fill="#4a4a4a">Ibope - 21/set</text>
<line x1="333.2" y1="617.4" x2="649.3" y2="617.4" stroke="#a9a9a9" stroke-width="0.9"/>
<rect x="333.3" y="624.6" width="25.2" height="19.6" rx="2.2" fill="#6e6f72"/>
<text x="345.9" y="639.7" font-size="15.8" font-weight="700" fill="#fff" text-anchor="middle" textLength="17.1" lengthAdjust="spacingAndGlyphs" stroke="#fff" stroke-width="0.4">MG</text>
<text x="364.2" y="630.8" font-size="8.7" textLength="96.7" lengthAdjust="spacingAndGlyphs">Antonio Anastasia (PSDB)</text>
<rect x="467.8" y="624.9" width="159.9" height="6" fill="#e7e7e8"/>
<rect x="467.8" y="624.9" width="134.8" height="6" fill="#55849f"/>
<text x="645.3" y="630.8" font-size="9" text-anchor="end" font-weight="700" stroke="#1a1a1a" stroke-width="0.3">64</text>
<line x1="362.2" y1="634.4" x2="649.3" y2="634.4" stroke="#aaa" stroke-width="0.5" stroke-dasharray="2 1"/>
<text x="364.2" y="643.8" font-size="8.7" textLength="83.8" lengthAdjust="spacingAndGlyphs">Josué Alencar (PMDB)</text>
<rect x="467.8" y="637.9" width="159.9" height="6" fill="#e7e7e8"/>
<rect x="467.8" y="637.9" width="65.3" height="6" fill="#a4b6c8"/>
<text x="645.3" y="643.8" font-size="9" text-anchor="end" textLength="8.5" lengthAdjust="spacingAndGlyphs" fill="#3a3a3a">31</text>
<line x1="362.2" y1="647.4" x2="649.3" y2="647.4" stroke="#aaa" stroke-width="0.5" stroke-dasharray="2 1"/>
<rect x="467.8" y="650.9" width="0.5" height="6" fill="#d5dde6"/>
<text x="467.7" y="665.8" font-size="7.4" textLength="37.4" lengthAdjust="spacingAndGlyphs" fill="#4a4a4a">Ibope - 4/out</text>
<line x1="333.2" y1="673.3" x2="649.3" y2="673.3" stroke="#a9a9a9" stroke-width="0.9"/>
<rect x="333.3" y="680.5" width="25.2" height="19.6" rx="2.2" fill="#6e6f72"/>
<text x="345.9" y="695.6" font-size="15.8" font-weight="700" fill="#fff" text-anchor="middle" textLength="15.9" lengthAdjust="spacingAndGlyphs" stroke="#fff" stroke-width="0.4">MS</text>
<text x="364.2" y="686.6" font-size="8.7" textLength="82.2" lengthAdjust="spacingAndGlyphs">Simone Tebet (PMDB)</text>
<rect x="467.8" y="680.8" width="159.9" height="6" fill="#e7e7e8"/>
<rect x="467.8" y="680.8" width="99.0" height="6" fill="#55849f"/>
<text x="645.3" y="686.6" font-size="9" text-anchor="end" font-weight="700" stroke="#1a1a1a" stroke-width="0.3">47</text>
<line x1="362.2" y1="690.3" x2="649.3" y2="690.3" stroke="#aaa" stroke-width="0.5" stroke-dasharray="2 1"/>
<text x="364.2" y="699.6" font-size="8.7" textLength="71.8" lengthAdjust="spacingAndGlyphs">Alcides Bernal (PP)</text>
<rect x="467.8" y="693.8" width="159.9" height="6" fill="#e7e7e8"/>
<rect x="467.8" y="693.8" width="50.6" height="6" fill="#a4b6c8"/>
<text x="645.3" y="699.6" font-size="9" text-anchor="end" textLength="8.5" lengthAdjust="spacingAndGlyphs" fill="#3a3a3a">24</text>
<line x1="362.2" y1="703.3" x2="649.3" y2="703.3" stroke="#aaa" stroke-width="0.5" stroke-dasharray="2 1"/>
<text x="364.2" y="712.6" font-size="8.7" textLength="76.3" lengthAdjust="spacingAndGlyphs">Ricardo Ayache (PT)</text>
<rect x="467.8" y="706.8" width="159.9" height="6" fill="#e7e7e8"/>
<rect x="467.8" y="706.8" width="40.0" height="6" fill="#a4b6c8"/>
<text x="645.3" y="712.6" font-size="9" text-anchor="end" textLength="8.5" lengthAdjust="spacingAndGlyphs" fill="#3a3a3a">19</text>
<text x="467.7" y="721.7" font-size="7.4" textLength="37.4" lengthAdjust="spacingAndGlyphs" fill="#4a4a4a">Ibope - 4/out</text>
<line x1="333.2" y1="728.2" x2="649.3" y2="728.2" stroke="#a9a9a9" stroke-width="0.9"/>
<rect x="333.3" y="735.4" width="25.2" height="19.6" rx="2.2" fill="#6e6f72"/>
<text x="345.9" y="750.5" font-size="15.8" font-weight="700" fill="#fff" text-anchor="middle" textLength="15.3" lengthAdjust="spacingAndGlyphs" stroke="#fff" stroke-width="0.4">MT</text>
<text x="364.2" y="741.6" font-size="8.7" textLength="97.0" lengthAdjust="spacingAndGlyphs">Wellington Fagundes (PR)</text>
<rect x="467.8" y="735.7" width="159.9" height="6" fill="#e7e7e8"/>
<rect x="467.8" y="735.7" width="111.7" height="6" fill="#55849f"/>
<text x="645.3" y="741.6" font-size="9" text-anchor="end" font-weight="700" stroke="#1a1a1a" stroke-width="0.3">53</text>
<line x1="362.2" y1="745.2" x2="649.3" y2="745.2" stroke="#aaa" stroke-width="0.5" stroke-dasharray="2 1"/>
<text x="364.2" y="754.6" font-size="8.7" textLength="84.2" lengthAdjust="spacingAndGlyphs">Rogério Salles (PSDB)</text>
<rect x="467.8" y="748.7" width="159.9" height="6" fill="#e7e7e8"/>
<rect x="467.8" y="748.7" width="65.3" height="6" fill="#a4b6c8"/>
<text x="645.3" y="754.6" font-size="9" text-anchor="end" textLength="8.5" lengthAdjust="spacingAndGlyphs" fill="#3a3a3a">31</text>
<line x1="362.2" y1="758.2" x2="649.3" y2="758.2" stroke="#aaa" stroke-width="0.5" stroke-dasharray="2 1"/>
<text x="364.2" y="767.6" font-size="8.7" textLength="61.7" lengthAdjust="spacingAndGlyphs">Rui Prado (PSD)</text>
<rect x="467.8" y="761.7" width="159.9" height="6" fill="#e7e7e8"/>
<rect x="467.8" y="761.7" width="19.0" height="6" fill="#a4b6c8"/>
<text x="645.3" y="767.6" font-size="9" text-anchor="end" textLength="4.3" lengthAdjust="spacingAndGlyphs" fill="#3a3a3a">9</text>
<text x="467.7" y="776.6" font-size="7.4" textLength="37.4" lengthAdjust="spacingAndGlyphs" fill="#4a4a4a">Ibope - 2/out</text>
<line x1="333.2" y1="785.1" x2="649.3" y2="785.1" stroke="#a9a9a9" stroke-width="0.9"/>
<rect x="333.3" y="792.3" width="25.2" height="19.6" rx="2.2" fill="#6e6f72"/>
<text x="345.9" y="807.4" font-size="15.8" font-weight="700" fill="#fff" text-anchor="middle" textLength="13.9" lengthAdjust="spacingAndGlyphs" stroke="#fff" stroke-width="0.4">PA</text>
<text x="364.2" y="798.5" font-size="8.7" textLength="65.8" lengthAdjust="spacingAndGlyphs">Paulo Rocha (PT)</text>
<rect x="467.8" y="792.6" width="159.9" height="6" fill="#e7e7e8"/>
<rect x="467.8" y="792.6" width="84.3" height="6" fill="#55849f"/>
<text x="645.3" y="798.5" font-size="9" text-anchor="end" font-weight="700" stroke="#1a1a1a" stroke-width="0.3">40</text>
<line x1="362.2" y1="802.1" x2="649.3" y2="802.1" stroke="#aaa" stroke-width="0.5" stroke-dasharray="2 1"/>
<text x="364.2" y="811.5" font-size="8.7" textLength="73.0" lengthAdjust="spacingAndGlyphs">Jefferson Lima (PP)</text>
<rect x="467.8" y="805.6" width="159.9" height="6" fill="#e7e7e8"/>
<rect x="467.8" y="805.6" width="46.4" height="6" fill="#a4b6c8"/>
<text x="645.3" y="811.5" font-size="9" text-anchor="end" textLength="8.5" lengthAdjust="spacingAndGlyphs" fill="#3a3a3a">22</text>
<line x1="362.2" y1="815.1" x2="649.3" y2="815.1" stroke="#aaa" stroke-width="0.5" stroke-dasharray="2 1"/>
<text x="364.2" y="824.5" font-size="8.7" textLength="75.5" lengthAdjust="spacingAndGlyphs">Mario Couto (PSDB)</text>
<rect x="467.8" y="818.6" width="159.9" height="6" fill="#e7e7e8"/>
<rect x="467.8" y="818.6" width="37.9" height="6" fill="#a4b6c8"/>
<rect x="458.5" y="817.7" width="8" height="7.8" fill="#ffd900"/>
<text x="460.3" y="824.2" font-size="7.4" textLength="4.1" lengthAdjust="spacingAndGlyphs" stroke="#1a1a1a" stroke-width="0.2">R</text>
<text x="645.3" y="824.5" font-size="9" text-anchor="end" textLength="8.5" lengthAdjust="spacingAndGlyphs" fill="#3a3a3a">18</text>
<text x="467.7" y="833.5" font-size="7.4" textLength="37.4" lengthAdjust="spacingAndGlyphs" fill="#4a4a4a">Ibope - 4/out</text>
<line x1="333.2" y1="842.2" x2="649.3" y2="842.2" stroke="#a9a9a9" stroke-width="0.9"/>
<rect x="333.3" y="849.4" width="25.2" height="19.6" rx="2.2" fill="#6e6f72"/>
<text x="345.9" y="864.5" font-size="15.8" font-weight="700" fill="#fff" text-anchor="middle" textLength="14.7" lengthAdjust="spacingAndGlyphs" stroke="#fff" stroke-width="0.4">PB</text>
<text x="364.2" y="855.6" font-size="8.7" textLength="82.7" lengthAdjust="spacingAndGlyphs">José Maranhão <tspan font-size="6.9">(PMDB)</tspan></text>
<rect x="467.8" y="849.7" width="159.9" height="6" fill="#e7e7e8"/>
<rect x="467.8" y="849.7" width="103.2" height="6" fill="#55849f"/>
<text x="645.3" y="855.6" font-size="9" text-anchor="end" font-weight="700" stroke="#1a1a1a" stroke-width="0.3">49</text>
<line x1="362.2" y1="859.2" x2="649.3" y2="859.2" stroke="#aaa" stroke-width="0.5" stroke-dasharray="2 1"/>
<text x="364.2" y="868.6" font-size="8.7" textLength="72.6" lengthAdjust="spacingAndGlyphs">Lucélio Cartaxo <tspan font-size="6.9">(PT)</tspan></text>
<rect x="467.8" y="862.7" width="159.9" height="6" fill="#e7e7e8"/>
<rect x="467.8" y="862.7" width="50.6" height="6" fill="#a4b6c8"/>
<text x="645.3" y="868.6" font-size="9" text-anchor="end" textLength="8.5" lengthAdjust="spacingAndGlyphs" fill="#3a3a3a">24</text>
<line x1="362.2" y1="872.2" x2="649.3" y2="872.2" stroke="#aaa" stroke-width="0.5" stroke-dasharray="2 1"/>
<text x="364.2" y="881.6" font-size="8.7" textLength="79.3" lengthAdjust="spacingAndGlyphs">Wilson Santiago <tspan font-size="6.9">(PTB)</tspan></text>
<rect x="467.8" y="875.7" width="159.9" height="6" fill="#e7e7e8"/>
<rect x="467.8" y="875.7" width="42.1" height="6" fill="#a4b6c8"/>
<text x="645.3" y="881.6" font-size="9" text-anchor="end" textLength="8.5" lengthAdjust="spacingAndGlyphs" fill="#3a3a3a">20</text>
<text x="467.7" y="890.6" font-size="7.4" textLength="40.7" lengthAdjust="spacingAndGlyphs" fill="#4a4a4a">Ibope - 19/set</text>
<line x1="333.2" y1="900.1" x2="649.3" y2="900.1" stroke="#a9a9a9" stroke-width="0.9"/>
<rect x="333.3" y="907.3" width="25.2" height="19.6" rx="2.2" fill="#6e6f72"/>
<text x="345.9" y="922.4" font-size="15.8" font-weight="700" fill="#fff" text-anchor="middle" textLength="14.1" lengthAdjust="spacingAndGlyphs" stroke="#fff" stroke-width="0.4">PE</text>
<text x="364.2" y="913.5" font-size="8.7" textLength="56.5" lengthAdjust="spacingAndGlyphs">João Paulo <tspan font-size="6.9">(PT)</tspan></text>
<rect x="467.8" y="907.6" width="159.9" height="6" fill="#e7e7e8"/>
<rect x="467.8" y="907.6" width="109.6" height="6" fill="#55849f"/>
<text x="645.3" y="913.5" font-size="9" text-anchor="end" font-weight="700" stroke="#1a1a1a" stroke-width="0.3">52</text>
<line x1="362.2" y1="917.1" x2="649.3" y2="917.1" stroke="#aaa" stroke-width="0.5" stroke-dasharray="2 1"/>
<text x="364.2" y="926.5" font-size="8.7" textLength="94.0" lengthAdjust="spacingAndGlyphs">Fernando B. Coelho <tspan font-size="6.9">(PSB)</tspan></text>
<rect x="467.8" y="920.6" width="159.9" height="6" fill="#e7e7e8"/>
<rect x="467.8" y="920.6" width="94.8" height="6" fill="#a4b6c8"/>
<text x="645.3" y="926.5" font-size="9" text-anchor="end" textLength="8.5" lengthAdjust="spacingAndGlyphs" fill="#3a3a3a">45</text>
<line x1="362.2" y1="930.1" x2="649.3" y2="930.1" stroke="#aaa" stroke-width="0.5" stroke-dasharray="2 1"/>
<rect x="467.8" y="933.6" width="0.5" height="6" fill="#d5dde6"/>
<text x="467.7" y="948.5" font-size="7.4" textLength="37.4" lengthAdjust="spacingAndGlyphs" fill="#4a4a4a">Ibope - 4/out</text>
<line x1="333.2" y1="959.3" x2="649.3" y2="959.3" stroke="#a9a9a9" stroke-width="0.9"/>
<rect x="333.3" y="966.5" width="25.2" height="19.6" rx="2.2" fill="#6e6f72"/>
<text x="345.9" y="981.6" font-size="15.8" font-weight="700" fill="#fff" text-anchor="middle" textLength="13.6" lengthAdjust="spacingAndGlyphs" stroke="#fff" stroke-width="0.4">PI</text>
<text x="364.2" y="972.6" font-size="8.7" textLength="52.0" lengthAdjust="spacingAndGlyphs">Elmano (PTB)</text>
<rect x="467.8" y="966.8" width="159.9" height="6" fill="#e7e7e8"/>
<rect x="467.8" y="966.8" width="113.8" height="6" fill="#55849f"/>
<text x="645.3" y="972.6" font-size="9" text-anchor="end" font-weight="700" stroke="#1a1a1a" stroke-width="0.3">54</text>
<line x1="362.2" y1="976.3" x2="649.3" y2="976.3" stroke="#aaa" stroke-width="0.5" stroke-dasharray="2 1"/>
<text x="364.2" y="985.6" font-size="8.7" textLength="78.7" lengthAdjust="spacingAndGlyphs">Wilson Martins (PSB)</text>
<rect x="467.8" y="979.8" width="159.9" height="6" fill="#e7e7e8"/>
<rect x="467.8" y="979.8" width="78.0" height="6" fill="#a4b6c8"/>
<text x="645.3" y="985.6" font-size="9" text-anchor="end" textLength="8.5" lengthAdjust="spacingAndGlyphs" fill="#3a3a3a">37</text>
<line x1="362.2" y1="989.3" x2="649.3" y2="989.3" stroke="#aaa" stroke-width="0.5" stroke-dasharray="2 1"/>
<rect x="467.8" y="992.8" width="0.5" height="6" fill="#d5dde6"/>
<text x="467.7" y="1007.7" font-size="7.4" textLength="37.4" lengthAdjust="spacingAndGlyphs" fill="#4a4a4a">Ibope - 2/out</text>
<line x1="333.2" y1="1017.5" x2="649.3" y2="1017.5" stroke="#a9a9a9" stroke-width="0.9"/>
<rect x="333.3" y="1023.9" width="25.2" height="19.6" rx="2.2" fill="#6e6f72"/>
<text x="345.9" y="1039.0" font-size="15.8" font-weight="700" fill="#fff" text-anchor="middle" textLength="14.7" lengthAdjust="spacingAndGlyphs" stroke="#fff" stroke-width="0.4">PR</text>
<text x="364.2" y="1030.0" font-size="8.7" textLength="72.7" lengthAdjust="spacingAndGlyphs">Álvaro Dias (PSDB)</text>
<rect x="467.8" y="1024.2" width="159.9" height="6" fill="#e7e7e8"/>
<rect x="467.8" y="1024.2" width="118" height="6" fill="#55849f"/><rect x="576" y="1021.9" width="46" height="6.1" fill="#55849f"/>
<rect x="458.5" y="1023.3" width="8" height="7.8" fill="#ffd900"/>
<text x="460.3" y="1029.8" font-size="7.4" textLength="4.1" lengthAdjust="spacingAndGlyphs" stroke="#1a1a1a" stroke-width="0.2">R</text>
<text x="645.3" y="1030.0" font-size="9" text-anchor="end" font-weight="700" stroke="#1a1a1a" stroke-width="0.3">82</text>
<line x1="362.2" y1="1033.7" x2="649.3" y2="1033.7" stroke="#aaa" stroke-width="0.5" stroke-dasharray="2 1"/>
<text x="364.2" y="1043.0" font-size="8.7" textLength="100.8" lengthAdjust="spacingAndGlyphs">Ricardo Gomyde (PC do B)</text>
<rect x="467.8" y="1037.2" width="159.9" height="6" fill="#e7e7e8"/>
<rect x="467.8" y="1037.2" width="19.0" height="6" fill="#a4b6c8"/>
<text x="645.3" y="1043.0" font-size="9" text-anchor="end" textLength="4.3" lengthAdjust="spacingAndGlyphs" fill="#3a3a3a">9</text>
<line x1="362.2" y1="1046.7" x2="649.3" y2="1046.7" stroke="#aaa" stroke-width="0.5" stroke-dasharray="2 1"/>
<rect x="467.8" y="1050.2" width="0.5" height="6" fill="#d5dde6"/>
<text x="467.7" y="1065.1" font-size="7.4" textLength="37.4" lengthAdjust="spacingAndGlyphs" fill="#4a4a4a">Ibope - 4/out</text>
<line x1="659.0" y1="562.3" x2="970" y2="562.3" stroke="#a9a9a9" stroke-width="0.9"/>
<rect x="659.1" y="569.5" width="25.2" height="19.6" rx="2.2" fill="#6e6f72"/>
<text x="671.7" y="584.6" font-size="15.8" font-weight="700" fill="#fff" text-anchor="middle" textLength="13.6" lengthAdjust="spacingAndGlyphs" stroke="#fff" stroke-width="0.4">RJ</text>
<text x="689.8" y="575.6" font-size="8.7" textLength="55.7" lengthAdjust="spacingAndGlyphs">Romário (PSB)</text>
<rect x="792.2" y="569.8" width="159.9" height="6" fill="#e7e7e8"/>
<rect x="792.2" y="569.8" width="134.8" height="6" fill="#55849f"/>
<text x="969.2" y="575.6" font-size="9" text-anchor="end" font-weight="700" stroke="#1a1a1a" stroke-width="0.3">64</text>
<line x1="687.8" y1="579.3" x2="970" y2="579.3" stroke="#aaa" stroke-width="0.5" stroke-dasharray="2 1"/>
<text x="689.8" y="588.6" font-size="8.7" textLength="68.6" lengthAdjust="spacingAndGlyphs">Cesar Maia (DEM)</text>
<rect x="792.2" y="582.8" width="159.9" height="6" fill="#e7e7e8"/>
<rect x="792.2" y="582.8" width="52.7" height="6" fill="#a4b6c8"/>
<text x="969.2" y="588.6" font-size="9" text-anchor="end" textLength="8.5" lengthAdjust="spacingAndGlyphs" fill="#3a3a3a">25</text>
<line x1="687.8" y1="592.3" x2="970" y2="592.3" stroke="#aaa" stroke-width="0.5" stroke-dasharray="2 1"/>
<text x="689.8" y="601.6" font-size="8.7" textLength="66.3" lengthAdjust="spacingAndGlyphs">Carlos Lupi (PDT)</text>
<rect x="792.2" y="595.8" width="6.3" height="6" fill="#a4b6c8"/>
<text x="969.2" y="601.6" font-size="9" text-anchor="end" textLength="4.3" lengthAdjust="spacingAndGlyphs" fill="#3a3a3a">3</text>
<text x="792.1" y="610.7" font-size="7.4" textLength="37.4" lengthAdjust="spacingAndGlyphs" fill="#4a4a4a">Ibope - 4/out</text>
<line x1="659.0" y1="617.4" x2="970" y2="617.4" stroke="#a9a9a9" stroke-width="0.9"/>
<rect x="659.1" y="624.6" width="25.2" height="19.6" rx="2.2" fill="#6e6f72"/>
<text x="671.7" y="639.7" font-size="15.8" font-weight="700" fill="#fff" text-anchor="middle" textLength="15.3" lengthAdjust="spacingAndGlyphs" stroke="#fff" stroke-width="0.4">RN</text>
<text x="689.8" y="630.8" font-size="8.7" textLength="40.4" lengthAdjust="spacingAndGlyphs">Fátima <tspan font-size="6.9">(PT)</tspan></text>
<rect x="792.2" y="624.9" width="159.9" height="6" fill="#e7e7e8"/>
<rect x="792.2" y="624.9" width="120.1" height="6" fill="#55849f"/>
<rect x="782.9" y="624.0" width="8" height="7.8" fill="#ffd900"/>
<text x="784.7" y="630.5" font-size="7.4" textLength="4.1" lengthAdjust="spacingAndGlyphs" stroke="#1a1a1a" stroke-width="0.2">R</text>
<text x="969.2" y="630.8" font-size="9" text-anchor="end" font-weight="700" stroke="#1a1a1a" stroke-width="0.3">57</text>
<line x1="687.8" y1="634.4" x2="970" y2="634.4" stroke="#aaa" stroke-width="0.5" stroke-dasharray="2 1"/>
<text x="689.8" y="643.8" font-size="8.7" textLength="84.6" lengthAdjust="spacingAndGlyphs">Vilma M. de Faria <tspan font-size="6.9">(PSB)</tspan></text>
<rect x="792.2" y="637.9" width="159.9" height="6" fill="#e7e7e8"/>
<rect x="792.2" y="637.9" width="80.1" height="6" fill="#a4b6c8"/>
<text x="969.2" y="643.8" font-size="9" text-anchor="end" textLength="8.5" lengthAdjust="spacingAndGlyphs" fill="#3a3a3a">38</text>
<line x1="687.8" y1="647.4" x2="970" y2="647.4" stroke="#aaa" stroke-width="0.5" stroke-dasharray="2 1"/>
<rect x="792.2" y="650.9" width="0.5" height="6" fill="#d5dde6"/>
<text x="792.1" y="665.8" font-size="7.4" textLength="37.4" lengthAdjust="spacingAndGlyphs" fill="#4a4a4a">Ibope - 3/out</text>
<line x1="659.0" y1="673.3" x2="970" y2="673.3" stroke="#a9a9a9" stroke-width="0.9"/>
<rect x="659.1" y="680.5" width="25.2" height="19.6" rx="2.2" fill="#6e6f72"/>
<text x="671.7" y="695.6" font-size="15.8" font-weight="700" fill="#fff" text-anchor="middle" textLength="15.9" lengthAdjust="spacingAndGlyphs" stroke="#fff" stroke-width="0.4">RO</text>
<text x="689.8" y="686.6" font-size="8.7" textLength="67.7" lengthAdjust="spacingAndGlyphs">Acir Gurgacz <tspan font-size="6.9">(PDT)</tspan></text>
<rect x="792.2" y="680.8" width="159.9" height="6" fill="#e7e7e8"/>
<rect x="792.2" y="680.8" width="73.7" height="6" fill="#55849f"/>
<text x="969.2" y="686.6" font-size="9" text-anchor="end" font-weight="700" stroke="#1a1a1a" stroke-width="0.3">35</text>
<line x1="687.8" y1="690.3" x2="970" y2="690.3" stroke="#aaa" stroke-width="0.5" stroke-dasharray="2 1"/>
<text x="689.8" y="699.6" font-size="8.7" textLength="63.3" lengthAdjust="spacingAndGlyphs">Ivone Cassol <tspan font-size="6.9">(PP)</tspan></text>
<rect x="792.2" y="693.8" width="159.9" height="6" fill="#e7e7e8"/>
<rect x="792.2" y="693.8" width="54.8" height="6" fill="#a4b6c8"/>
<text x="969.2" y="699.6" font-size="9" text-anchor="end" textLength="8.5" lengthAdjust="spacingAndGlyphs" fill="#3a3a3a">26</text>
<line x1="687.8" y1="703.3" x2="970" y2="703.3" stroke="#aaa" stroke-width="0.5" stroke-dasharray="2 1"/>
<text x="689.8" y="712.6" font-size="8.7" textLength="80.0" lengthAdjust="spacingAndGlyphs">Moreira Mendes <tspan font-size="6.9">(PSD)</tspan></text>
<rect x="792.2" y="706.8" width="159.9" height="6" fill="#e7e7e8"/>
<rect x="792.2" y="706.8" width="48.5" height="6" fill="#a4b6c8"/>
<text x="969.2" y="712.6" font-size="9" text-anchor="end" textLength="8.5" lengthAdjust="spacingAndGlyphs" fill="#3a3a3a">23</text>
<text x="792.1" y="721.7" font-size="7.4" textLength="37.4" lengthAdjust="spacingAndGlyphs" fill="#4a4a4a">Ibope - 3/out</text>
<line x1="659.0" y1="728.2" x2="970" y2="728.2" stroke="#a9a9a9" stroke-width="0.9"/>
<rect x="659.1" y="735.4" width="25.2" height="19.6" rx="2.2" fill="#6e6f72"/>
<text x="671.7" y="750.5" font-size="15.8" font-weight="700" fill="#fff" text-anchor="middle" textLength="15.3" lengthAdjust="spacingAndGlyphs" stroke="#fff" stroke-width="0.4">RR</text>
<text x="689.8" y="741.6" font-size="8.7" textLength="62.6" lengthAdjust="spacingAndGlyphs">Anchieta (PSDB)</text>
<rect x="792.2" y="735.7" width="159.9" height="6" fill="#e7e7e8"/>
<rect x="792.2" y="735.7" width="61.1" height="6" fill="#55849f"/>
<text x="969.2" y="741.6" font-size="9" text-anchor="end" font-weight="700" stroke="#1a1a1a" stroke-width="0.3">29</text>
<line x1="687.8" y1="745.2" x2="970" y2="745.2" stroke="#aaa" stroke-width="0.5" stroke-dasharray="2 1"/>
<text x="689.8" y="754.6" font-size="8.7" textLength="76.4" lengthAdjust="spacingAndGlyphs">Telmário Mota (PDT)</text>
<rect x="792.2" y="748.7" width="159.9" height="6" fill="#e7e7e8"/>
<rect x="792.2" y="748.7" width="48.5" height="6" fill="#a4b6c8"/>
<text x="969.2" y="754.6" font-size="9" text-anchor="end" textLength="8.5" lengthAdjust="spacingAndGlyphs" fill="#3a3a3a">23</text>
<line x1="687.8" y1="758.2" x2="970" y2="758.2" stroke="#aaa" stroke-width="0.5" stroke-dasharray="2 1"/>
<text x="689.8" y="767.6" font-size="8.7" textLength="75.0" lengthAdjust="spacingAndGlyphs">Luciano Castro (PR)</text>
<rect x="792.2" y="761.7" width="159.9" height="6" fill="#e7e7e8"/>
<rect x="792.2" y="761.7" width="42.1" height="6" fill="#a4b6c8"/>
<text x="969.2" y="767.6" font-size="9" text-anchor="end" textLength="8.5" lengthAdjust="spacingAndGlyphs" fill="#3a3a3a">20</text>
<text x="792.1" y="776.6" font-size="7.4" textLength="37.4" lengthAdjust="spacingAndGlyphs" fill="#4a4a4a">Ibope - 2/out</text>
<line x1="659.0" y1="785.1" x2="970" y2="785.1" stroke="#a9a9a9" stroke-width="0.9"/>
<rect x="659.1" y="792.3" width="25.2" height="19.6" rx="2.2" fill="#6e6f72"/>
<text x="671.7" y="807.4" font-size="15.8" font-weight="700" fill="#fff" text-anchor="middle" textLength="14.7" lengthAdjust="spacingAndGlyphs" stroke="#fff" stroke-width="0.4">RS</text>
<text x="689.8" y="798.5" font-size="8.7" textLength="62.1" lengthAdjust="spacingAndGlyphs">Olívio Dutra (PT)</text>
<rect x="792.2" y="792.6" width="159.9" height="6" fill="#e7e7e8"/>
<rect x="792.2" y="792.6" width="80.1" height="6" fill="#55849f"/>
<text x="969.2" y="798.5" font-size="9" text-anchor="end" font-weight="700" stroke="#1a1a1a" stroke-width="0.3">38</text>
<line x1="687.8" y1="802.1" x2="970" y2="802.1" stroke="#aaa" stroke-width="0.5" stroke-dasharray="2 1"/>
<text x="689.8" y="811.5" font-size="8.7" textLength="76.4" lengthAdjust="spacingAndGlyphs">Lasier Martins (PDT)</text>
<rect x="792.2" y="805.6" width="159.9" height="6" fill="#e7e7e8"/>
<rect x="792.2" y="805.6" width="78.0" height="6" fill="#a4b6c8"/>
<text x="969.2" y="811.5" font-size="9" text-anchor="end" textLength="8.5" lengthAdjust="spacingAndGlyphs" fill="#3a3a3a">37</text>
<line x1="687.8" y1="815.1" x2="970" y2="815.1" stroke="#aaa" stroke-width="0.5" stroke-dasharray="2 1"/>
<text x="689.8" y="824.5" font-size="8.7" textLength="79.6" lengthAdjust="spacingAndGlyphs">Pedro Simon (PMDB)</text>
<rect x="792.2" y="818.6" width="159.9" height="6" fill="#e7e7e8"/>
<rect x="792.2" y="818.6" width="33.7" height="6" fill="#a4b6c8"/>
<rect x="782.9" y="817.7" width="8" height="7.8" fill="#ffd900"/>
<text x="784.7" y="824.2" font-size="7.4" textLength="4.1" lengthAdjust="spacingAndGlyphs" stroke="#1a1a1a" stroke-width="0.2">R</text>
<text x="969.2" y="824.5" font-size="9" text-anchor="end" textLength="8.5" lengthAdjust="spacingAndGlyphs" fill="#3a3a3a">16</text>
<text x="792.1" y="833.5" font-size="7.4" textLength="37.4" lengthAdjust="spacingAndGlyphs" fill="#4a4a4a">Ibope - 3/out</text>
<line x1="659.0" y1="842.2" x2="970" y2="842.2" stroke="#a9a9a9" stroke-width="0.9"/>
<rect x="659.1" y="849.4" width="25.2" height="19.6" rx="2.2" fill="#6e6f72"/>
<text x="671.7" y="864.5" font-size="15.8" font-weight="700" fill="#fff" text-anchor="middle" textLength="14.7" lengthAdjust="spacingAndGlyphs" stroke="#fff" stroke-width="0.4">SC</text>
<text x="689.8" y="855.6" font-size="8.7" textLength="45.4" lengthAdjust="spacingAndGlyphs">Dário <tspan font-size="6.9">(PMDB)</tspan></text>
<rect x="792.2" y="849.7" width="159.9" height="6" fill="#e7e7e8"/>
<rect x="792.2" y="849.7" width="82.2" height="6" fill="#55849f"/>
<text x="969.2" y="855.6" font-size="9" text-anchor="end" font-weight="700" stroke="#1a1a1a" stroke-width="0.3">39</text>
<line x1="687.8" y1="859.2" x2="970" y2="859.2" stroke="#aaa" stroke-width="0.5" stroke-dasharray="2 1"/>
<text x="689.8" y="868.6" font-size="8.7" textLength="88.0" lengthAdjust="spacingAndGlyphs">Paulo Bornhausen <tspan font-size="6.9">(PSB)</tspan></text>
<rect x="792.2" y="862.7" width="159.9" height="6" fill="#e7e7e8"/>
<rect x="792.2" y="862.7" width="75.9" height="6" fill="#a4b6c8"/>
<text x="969.2" y="868.6" font-size="9" text-anchor="end" textLength="8.5" lengthAdjust="spacingAndGlyphs" fill="#3a3a3a">36</text>
<line x1="687.8" y1="872.2" x2="970" y2="872.2" stroke="#aaa" stroke-width="0.5" stroke-dasharray="2 1"/>
<text x="689.8" y="881.6" font-size="8.7" textLength="68.9" lengthAdjust="spacingAndGlyphs">Milton Mendes <tspan font-size="6.9">(PT)</tspan></text>
<rect x="792.2" y="875.7" width="159.9" height="6" fill="#e7e7e8"/>
<rect x="792.2" y="875.7" width="29.5" height="6" fill="#a4b6c8"/>
<text x="969.2" y="881.6" font-size="9" text-anchor="end" textLength="8.5" lengthAdjust="spacingAndGlyphs" fill="#3a3a3a">14</text>
<text x="792.1" y="890.6" font-size="7.4" textLength="37.4" lengthAdjust="spacingAndGlyphs" fill="#4a4a4a">Ibope - 3/out</text>
<line x1="659.0" y1="900.1" x2="970" y2="900.1" stroke="#a9a9a9" stroke-width="0.9"/>
<rect x="659.1" y="907.3" width="25.2" height="19.6" rx="2.2" fill="#6e6f72"/>
<text x="671.7" y="922.4" font-size="15.8" font-weight="700" fill="#fff" text-anchor="middle" textLength="14.1" lengthAdjust="spacingAndGlyphs" stroke="#fff" stroke-width="0.4">SE</text>
<text x="689.8" y="913.5" font-size="8.7" textLength="85.6" lengthAdjust="spacingAndGlyphs">Maria do Carmo (DEM)</text>
<rect x="792.2" y="907.6" width="159.9" height="6" fill="#e7e7e8"/>
<rect x="792.2" y="907.6" width="128.5" height="6" fill="#55849f"/>
<rect x="782.9" y="906.7" width="8" height="7.8" fill="#ffd900"/>
<text x="784.7" y="913.2" font-size="7.4" textLength="4.1" lengthAdjust="spacingAndGlyphs" stroke="#1a1a1a" stroke-width="0.2">R</text>
<text x="969.2" y="913.5" font-size="9" text-anchor="end" font-weight="700" stroke="#1a1a1a" stroke-width="0.3">61</text>
<line x1="687.8" y1="917.1" x2="970" y2="917.1" stroke="#aaa" stroke-width="0.5" stroke-dasharray="2 1"/>
<text x="689.8" y="926.5" font-size="8.7" textLength="47.4" lengthAdjust="spacingAndGlyphs">Rogério (PT)</text>
<rect x="792.2" y="920.6" width="159.9" height="6" fill="#e7e7e8"/>
<rect x="792.2" y="920.6" width="75.9" height="6" fill="#a4b6c8"/>
<text x="969.2" y="926.5" font-size="9" text-anchor="end" textLength="8.5" lengthAdjust="spacingAndGlyphs" fill="#3a3a3a">36</text>
<line x1="687.8" y1="930.1" x2="970" y2="930.1" stroke="#aaa" stroke-width="0.5" stroke-dasharray="2 1"/>
<rect x="792.2" y="933.6" width="0.5" height="6" fill="#d5dde6"/>
<text x="792.1" y="948.5" font-size="7.4" textLength="37.4" lengthAdjust="spacingAndGlyphs" fill="#4a4a4a">Ibope - 4/out</text>
<line x1="659.0" y1="959.3" x2="970" y2="959.3" stroke="#a9a9a9" stroke-width="0.9"/>
<rect x="659.1" y="966.5" width="25.2" height="19.6" rx="2.2" fill="#6e6f72"/>
<text x="671.7" y="981.6" font-size="15.8" font-weight="700" fill="#fff" text-anchor="middle" textLength="14.1" lengthAdjust="spacingAndGlyphs" stroke="#fff" stroke-width="0.4">SP</text>
<text x="689.8" y="972.6" font-size="8.7" textLength="70.4" lengthAdjust="spacingAndGlyphs">José Serra (PSDB)</text>
<rect x="792.2" y="966.8" width="159.9" height="6" fill="#e7e7e8"/>
<rect x="792.2" y="966.8" width="101.1" height="6" fill="#55849f"/>
<text x="969.2" y="972.6" font-size="9" text-anchor="end" font-weight="700" stroke="#1a1a1a" stroke-width="0.3">48</text>
<line x1="687.8" y1="976.3" x2="970" y2="976.3" stroke="#aaa" stroke-width="0.5" stroke-dasharray="2 1"/>
<text x="689.8" y="985.6" font-size="8.7" textLength="78.7" lengthAdjust="spacingAndGlyphs">Eduardo Suplicy (PT)</text>
<rect x="792.2" y="979.8" width="159.9" height="6" fill="#e7e7e8"/>
<rect x="792.2" y="979.8" width="75.9" height="6" fill="#a4b6c8"/>
<rect x="782.9" y="978.9" width="8" height="7.8" fill="#ffd900"/>
<text x="784.7" y="985.4" font-size="7.4" textLength="4.1" lengthAdjust="spacingAndGlyphs" stroke="#1a1a1a" stroke-width="0.2">R</text>
<text x="969.2" y="985.6" font-size="9" text-anchor="end" textLength="8.5" lengthAdjust="spacingAndGlyphs" fill="#3a3a3a">36</text>
<line x1="687.8" y1="989.3" x2="970" y2="989.3" stroke="#aaa" stroke-width="0.5" stroke-dasharray="2 1"/>
<text x="689.8" y="998.6" font-size="8.7" textLength="83.8" lengthAdjust="spacingAndGlyphs">Gilberto Kassab (PSD)</text>
<rect x="792.2" y="992.8" width="159.9" height="6" fill="#e7e7e8"/>
<rect x="792.2" y="992.8" width="19.0" height="6" fill="#a4b6c8"/>
<text x="969.2" y="998.6" font-size="9" text-anchor="end" textLength="4.3" lengthAdjust="spacingAndGlyphs" fill="#3a3a3a">9</text>
<text x="792.1" y="1007.7" font-size="7.4" textLength="37.4" lengthAdjust="spacingAndGlyphs" fill="#4a4a4a">Ibope - 4/out</text>
<line x1="659.0" y1="1017.5" x2="970" y2="1017.5" stroke="#a9a9a9" stroke-width="0.9"/>
<rect x="659.1" y="1023.9" width="25.2" height="19.6" rx="2.2" fill="#6e6f72"/>
<text x="671.7" y="1039.0" font-size="15.8" font-weight="700" fill="#fff" text-anchor="middle" textLength="14.5" lengthAdjust="spacingAndGlyphs" stroke="#fff" stroke-width="0.4">TO</text>
<text x="689.8" y="1030.0" font-size="8.7" textLength="74.6" lengthAdjust="spacingAndGlyphs">Kátia Abreu (PMDB)</text>
<rect x="792.2" y="1024.2" width="159.9" height="6" fill="#e7e7e8"/>
<rect x="792.2" y="1024.2" width="118.0" height="6" fill="#55849f"/>
<rect x="782.9" y="1023.3" width="8" height="7.8" fill="#ffd900"/>
<text x="784.7" y="1029.8" font-size="7.4" textLength="4.1" lengthAdjust="spacingAndGlyphs" stroke="#1a1a1a" stroke-width="0.2">R</text>
<text x="969.2" y="1030.0" font-size="9" text-anchor="end" font-weight="700" stroke="#1a1a1a" stroke-width="0.3">56</text>
<line x1="687.8" y1="1033.7" x2="970" y2="1033.7" stroke="#aaa" stroke-width="0.5" stroke-dasharray="2 1"/>
<text x="689.8" y="1043.0" font-size="8.7" textLength="79.6" lengthAdjust="spacingAndGlyphs">Eduardo Gomes (SD)</text>
<rect x="792.2" y="1037.2" width="159.9" height="6" fill="#e7e7e8"/>
<rect x="792.2" y="1037.2" width="65.3" height="6" fill="#a4b6c8"/>
<text x="969.2" y="1043.0" font-size="9" text-anchor="end" textLength="8.5" lengthAdjust="spacingAndGlyphs" fill="#3a3a3a">31</text>
<line x1="687.8" y1="1046.7" x2="970" y2="1046.7" stroke="#aaa" stroke-width="0.5" stroke-dasharray="2 1"/>
<text x="689.8" y="1056.0" font-size="8.7" textLength="93.5" lengthAdjust="spacingAndGlyphs">Sargento Aragão (PROS)</text>
<rect x="792.2" y="1050.2" width="159.9" height="6" fill="#e7e7e8"/>
<rect x="792.2" y="1050.2" width="21.1" height="6" fill="#a4b6c8"/>
<text x="969.2" y="1056.0" font-size="9" text-anchor="end" textLength="8.5" lengthAdjust="spacingAndGlyphs" fill="#3a3a3a">10</text>
<text x="792.1" y="1065.1" font-size="7.4" textLength="37.4" lengthAdjust="spacingAndGlyphs" fill="#4a4a4a">Ibope - 4/out</text>
</svg>
</body></html>
